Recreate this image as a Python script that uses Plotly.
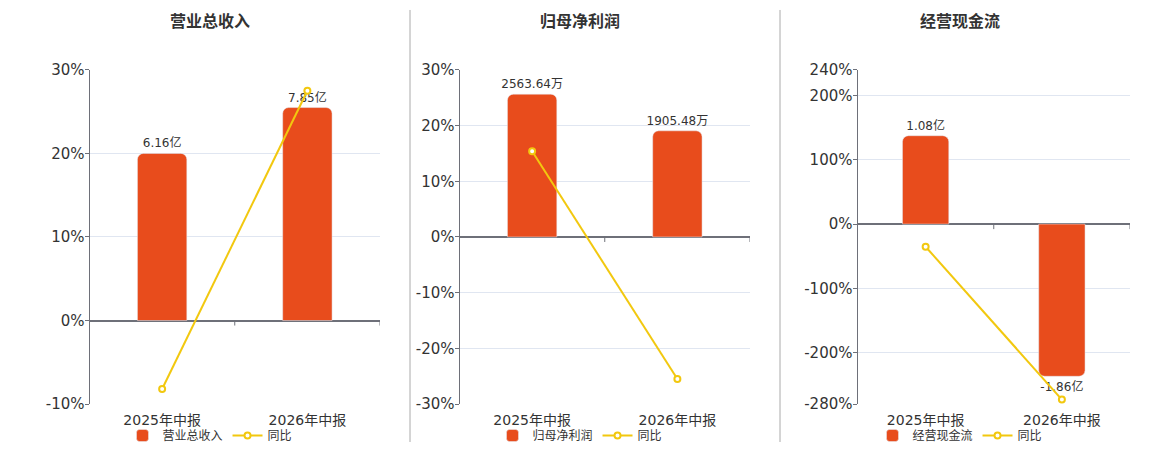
import plotly.graph_objects as go

# ---- data -------------------------------------------------------------
periods = ["2025年中报", "2026年中报"]

titles = ["营业总收入", "归母净利润", "经营现金流"]
units = ["亿", "万", "亿"]

revenue = [6.16, 7.85]            # 亿
revenue_yoy = [-8.2, 27.5]        # %
profit = [2563.64, 1905.48]       # 万
profit_yoy = [15.4, -25.5]        # %
cashflow = [1.08, -1.86]          # 亿
cashflow_yoy = [-35.2, -273.0]    # %

pct_ticks = [
    [-10, 0, 10, 20, 30],
    [-30, -20, -10, 0, 10, 20, 30],
    [-280, -200, -100, 0, 100, 200, 240],
]

# ---- style ------------------------------------------------------------
BAR_COLOR = "#E84C1C"
LINE_COLOR = "#F2C80F"
AXIS_COLOR = "#6E7079"
GRID_COLOR = "#E0E6F1"
TEXT_COLOR = "#333333"
FONT = "DejaVu Sans, Noto Sans CJK SC, sans-serif"

W, H = 1160, 450
# plot areas in pixels (left, right), shared top/bottom
x_px = [(89.5, 380), (459.5, 750), (857.5, 1130)]
top_px, bottom_px = 70, 405
centers_px = [210, 580, 960]
sep_px = [410, 780]

# bar axis ranges chosen so that zero lines up with the percent axis
bar_ranges = [[-3.08, 9.24], [-3000, 3000], [-2.2, 1.885]]

bars = [revenue, profit, cashflow]
yoys = [revenue_yoy, profit_yoy, cashflow_yoy]

fig = go.Figure()
shapes = []
annotations = []
layout = {}


def key(a):
    return a.replace("x", "xaxis") if a[0] == "x" else a.replace("y", "yaxis")


for i in range(3):
    xa = "x" if i == 0 else f"x{i + 1}"
    n = 3 * i + 1
    ya_pct = "y" if n == 1 else f"y{n}"
    ya_bar = f"y{n + 1}"
    ya_line = f"y{n + 2}"
    leg = "legend" if i == 0 else f"legend{i + 1}"

    # bars (hidden axis)
    fig.add_trace(go.Bar(
        x=periods, y=bars[i], name=titles[i],
        xaxis=xa, yaxis=ya_bar, legend=leg,
        width=0.34,
        marker=dict(color=BAR_COLOR, cornerradius=6),
        text=[f"{v:g}{units[i]}" for v in bars[i]],
        textposition="outside", cliponaxis=False, constraintext="none",
        textfont=dict(size=12, color=TEXT_COLOR, family=FONT),
    ))
    # yoy line (hidden axis, same range as visible percent axis)
    fig.add_trace(go.Scatter(
        x=periods, y=yoys[i], name="同比", mode="lines+markers",
        xaxis=xa, yaxis=ya_line, legend=leg,
        line=dict(color=LINE_COLOR, width=2),
        marker=dict(symbol="circle", size=6, color="white",
                    line=dict(color=LINE_COLOR, width=2)),
        cliponaxis=False,
    ))

    l, r = x_px[i]
    dom_x = [l / W, r / W]
    dom_y = [1 - bottom_px / H, 1 - top_px / H]
    pct_range = [pct_ticks[i][0], pct_ticks[i][-1]]

    layout[key(xa)] = dict(
        domain=dom_x, anchor=ya_pct, type="category",
        range=[-0.5, 1.5], showgrid=False, showline=False, ticks="",
        tickfont=dict(size=14, color=TEXT_COLOR, family=FONT),
        ticklabelstandoff=6,
        automargin=False, fixedrange=True,
    )
    layout[key(ya_pct)] = dict(
        domain=dom_y, anchor=xa, range=pct_range,
        tickvals=pct_ticks[i], ticktext=[f"{t}%" for t in pct_ticks[i]],
        showgrid=True, gridcolor=GRID_COLOR, gridwidth=1,
        zeroline=True, zerolinecolor=AXIS_COLOR, zerolinewidth=2,
        showline=True, linecolor=AXIS_COLOR, linewidth=1,
        ticks="outside", ticklen=4, tickcolor=AXIS_COLOR,
        ticklabelstandoff=-3,
        tickfont=dict(size=15, color=TEXT_COLOR, family=FONT),
        automargin=False, fixedrange=True,
    )
    layout[key(ya_bar)] = dict(
        overlaying=ya_pct, anchor=xa, range=bar_ranges[i],
        visible=False, fixedrange=True,
    )
    layout[key(ya_line)] = dict(
        overlaying=ya_pct, anchor=xa, range=pct_range,
        visible=False, fixedrange=True,
    )

    # small category boundary ticks on the zero line
    for xb in (0.5, 1.5):
        shapes.append(dict(
            type="line", xref=xa, yref=ya_pct, x0=xb, x1=xb,
            ysizemode="pixel", yanchor=0, y0=0, y1=-5,
            line=dict(color=AXIS_COLOR, width=1),
        ))

    annotations.append(dict(
        text=f"<b>{titles[i]}</b>", xref="paper", yref="paper",
        x=centers_px[i] / W, y=1 - 22 / H, xanchor="center", yanchor="middle",
        showarrow=False, font=dict(size=16, color=TEXT_COLOR, family=FONT),
    ))

    layout[leg] = dict(
        orientation="h", x=centers_px[i] / W, y=1 - 436 / H,
        xanchor="center", yanchor="middle",
        font=dict(size=12, color=TEXT_COLOR, family=FONT),
        bgcolor="rgba(0,0,0,0)", itemwidth=30, tracegroupgap=0,
    )

for xs in sep_px:
    shapes.append(dict(
        type="line", xref="paper", yref="paper",
        x0=xs / W, x1=xs / W, y0=1 - 443 / H, y1=1 - 10 / H,
        line=dict(color="#AAAAAA", width=1),
    ))

fig.update_layout(
    width=W, height=H,
    margin=dict(l=0, r=0, t=0, b=0),
    paper_bgcolor="white", plot_bgcolor="white",
    font=dict(family=FONT, color=TEXT_COLOR),
    showlegend=True,
    shapes=shapes, annotations=annotations,
    **layout,
)

# drop the browser's default body margin so the figure sits at (0, 0)
fig.write_html("out.html", config={"displayModeBar": False},
               post_script="document.body.style.margin='0';")
